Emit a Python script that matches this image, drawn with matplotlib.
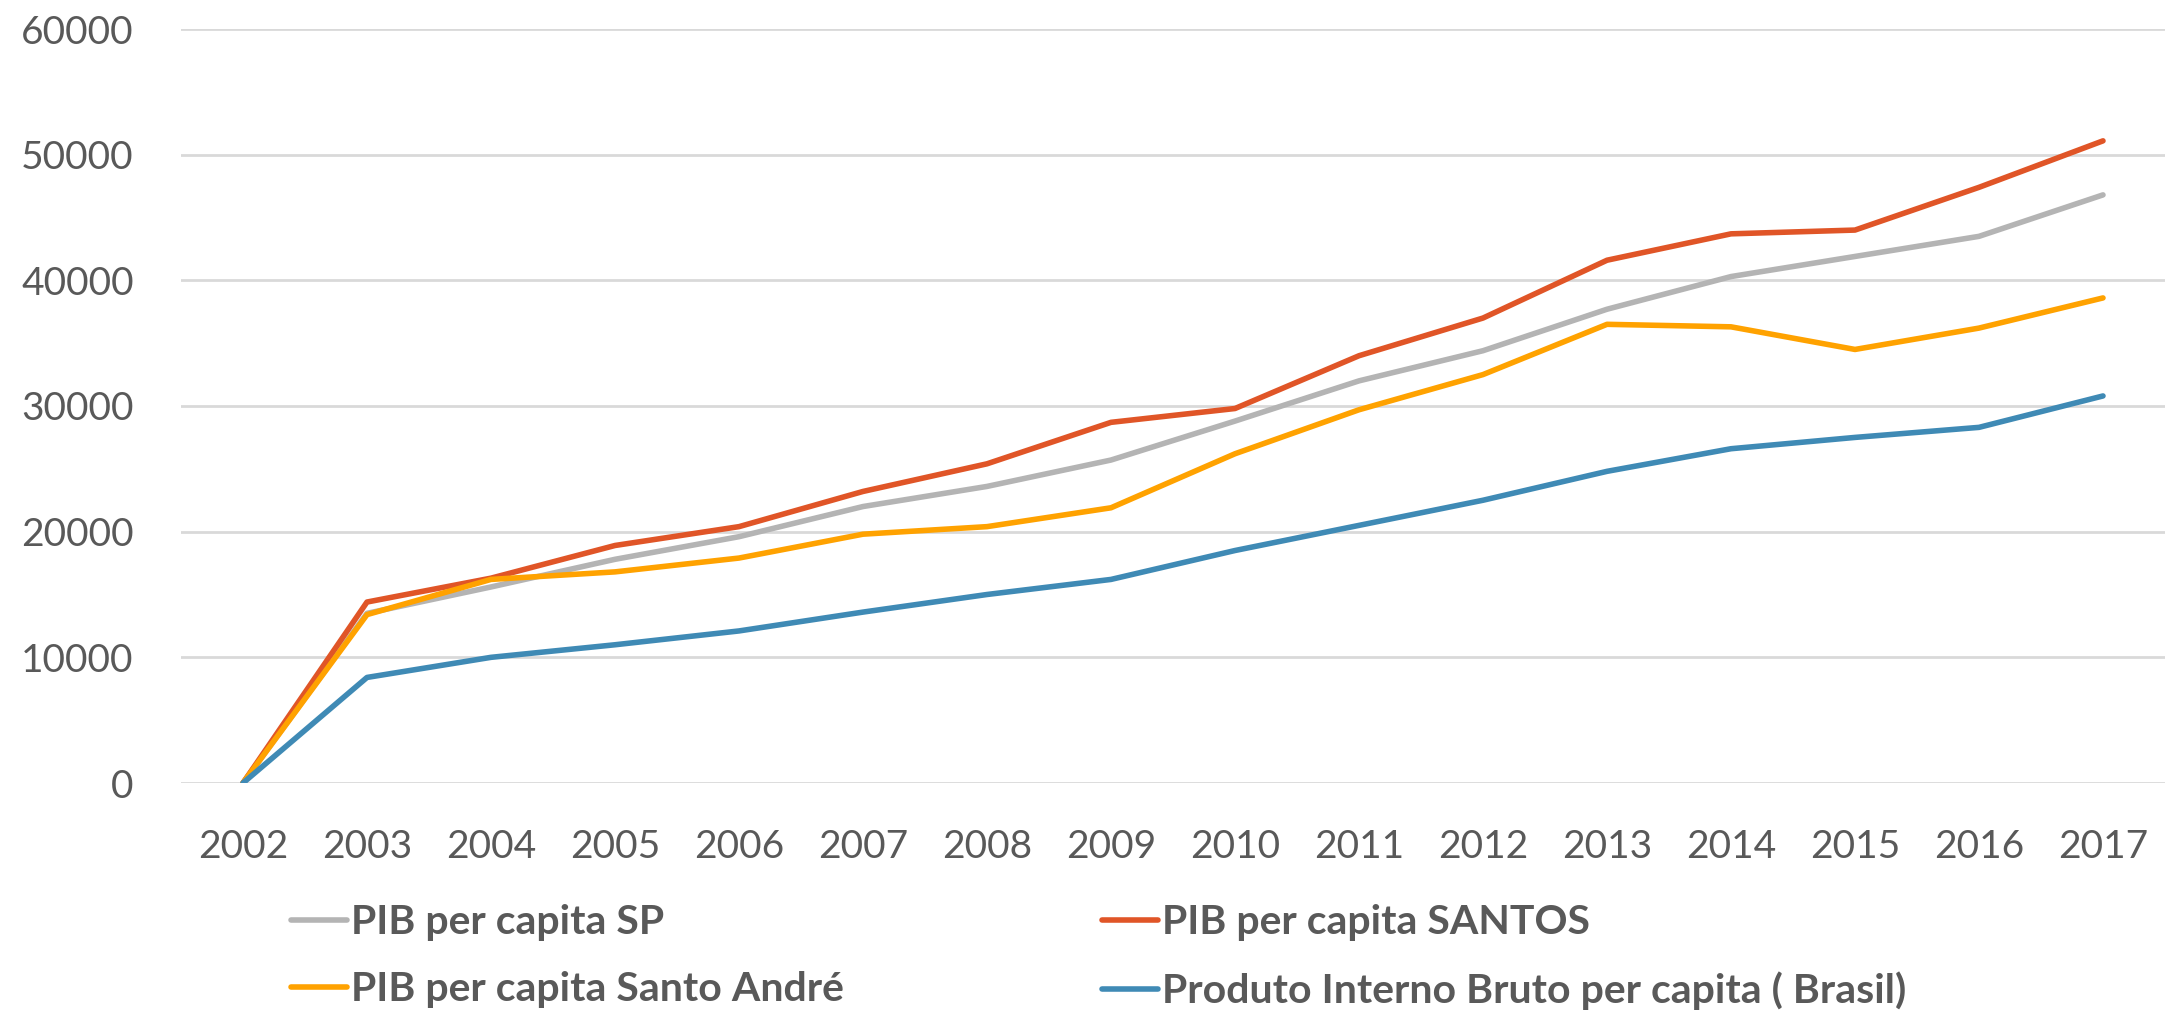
import matplotlib.pyplot as plt

# DATA

years = ['2002', '2003', '2004', '2005', '2006', '2007', '2008', '2009',
         '2010', '2011', '2012', '2013', '2014', '2015', '2016', '2017']

pib_sp = [0, 13500, 15600, 17800, 19600, 22000, 23600, 25700,
          28800, 32000, 34400, 37700, 40300, 41900, 43500, 46800]
pib_santos = [0, 14400, 16300, 18900, 20400, 23200, 25400, 28700,
              29800, 34000, 37000, 41600, 43700, 44000, 47400, 51100]
pib_santo_andre = [0, 13400, 16200, 16800, 17900, 19800, 20400, 21900,
                   26200, 29700, 32500, 36500, 36300, 34500, 36200, 38600]
pib_brasil = [0, 8400, 10000, 11000, 12100, 13600, 15000, 16200,
              18500, 20500, 22500, 24800, 26600, 27500, 28300, 30800]

labels = ['PIB per capita SP', 'PIB per capita SANTOS',
          'PIB per capita Santo André', 'Produto Interno Bruto per capita ( Brasil)']
colors = ['#B4B4B4', '#E05527', '#FFA200', '#3F8AB5']

# TO CREATE LINE_PLOT

plt.rcParams['font.family'] = ['Lato', 'DejaVu Sans']

fig = plt.figure(figsize=(21.65, 10.14), dpi=100)
ax = fig.add_axes([181 / 2165, 231 / 1014, 1 - 181 / 2165, 754 / 1014])

x = list(range(len(years)))
for values, label, color in zip([pib_sp, pib_santos, pib_santo_andre, pib_brasil], labels, colors):
    ax.plot(x, values, color=color, linewidth=4, label=label, solid_capstyle='round')

ax.set_xlim(-0.5, len(years) - 0.5)
ax.set_ylim(0, 60000)
ax.set_xticks(x)
ax.set_xticklabels(years)
ax.set_yticks(range(0, 60001, 10000))
ax.tick_params(axis='both', length=0, labelsize=28, colors='#595959')
ax.tick_params(axis='x', pad=33)
ax.tick_params(axis='y', pad=34)
ax.grid(axis='y', color='#D9D9D9', linewidth=2)
ax.set_axisbelow(True)
for s in ax.spines.values():
    s.set_visible(False)

# legend fills column by column, so reorder to read row by row
handles, names = ax.get_legend_handles_labels()
order = [0, 2, 1, 3]
leg = fig.legend([handles[i] for i in order], [names[i] for i in order],
                 loc='upper left', bbox_to_anchor=(291 / 2165, 0.1085), ncol=2,
                 frameon=False, borderaxespad=0, borderpad=0,
                 handlelength=1.37, handletextpad=0.1, columnspacing=6.3,
                 labelspacing=0.74, prop={'size': 29.5, 'weight': 'bold'})
for t in leg.get_texts():
    t.set_color('#595959')

fig.savefig('out.png', dpi=100)
